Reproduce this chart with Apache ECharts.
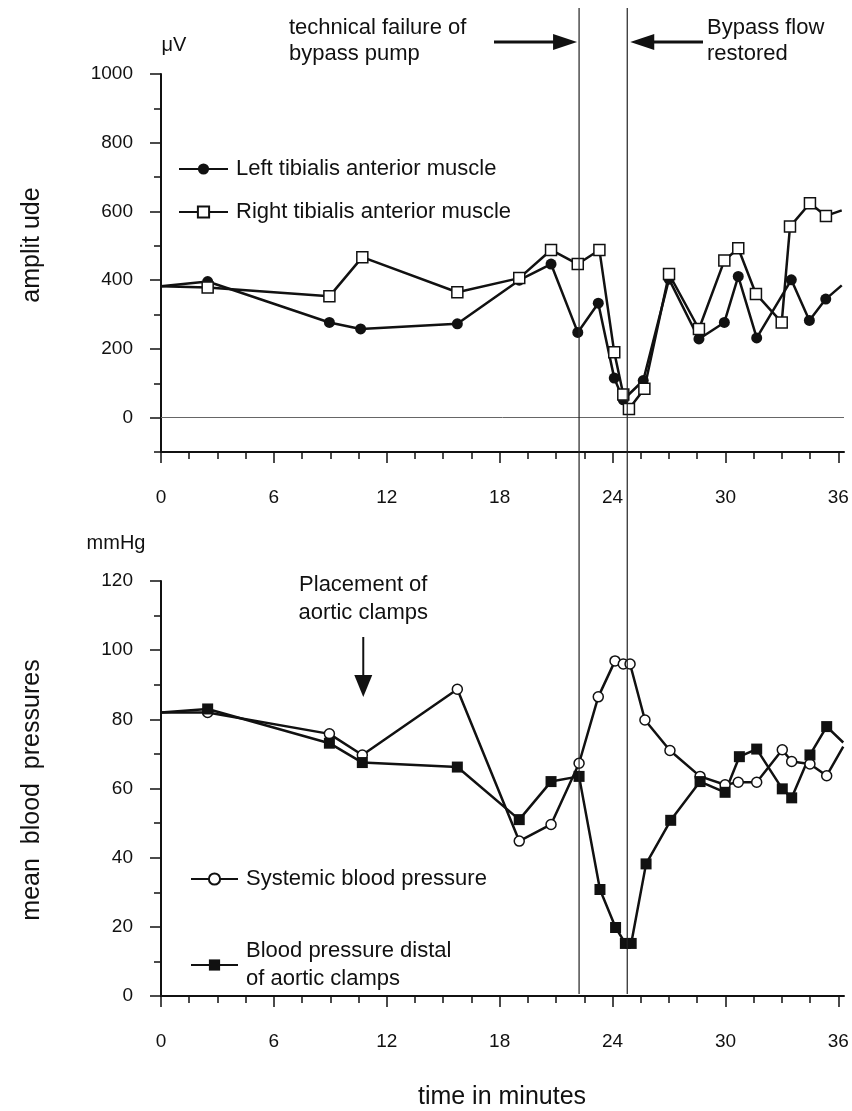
<!DOCTYPE html>
<html>
<head>
<meta charset="utf-8">
<script src="https://cdn.jsdelivr.net/npm/echarts@6/dist/echarts.min.js"></script>
<style>
  html, body { margin: 0; background: #fff; }
  #main { width: 852px; height: 1111px; }
</style>
</head>
<body>
<div id="main"></div>
<script>
// time in minutes, shared by both panels
var xMajor = [0, 6, 12, 18, 24, 30, 36];
var xMinor = [1.5, 3, 4.5, 7.5, 9, 10.5, 13.5, 15, 16.5, 19.5, 21, 22.5, 25.5, 27, 28.5, 31.5, 33, 34.5];
var tMax = 36.3;

// amplitude panel (uV)
var ampMajor = [0, 200, 400, 600, 800, 1000];
var ampMinor = [-100, 100, 300, 500, 700, 900];

// pressure panel (mmHg)
var bpMajor = [0, 20, 40, 60, 80, 100, 120];
var bpMinor = [10, 30, 50, 70, 90, 110];

// left tibialis anterior muscle
var leftTime = [0, 2.48, 8.95, 10.61, 15.75, 19.04, 20.73, 22.15, 23.24, 24.09, 24.57, 25.63, 27.0, 28.59, 29.94, 30.68, 31.66, 33.5, 34.46, 35.33, 36.18];
var leftAmp  = [382, 396, 277, 258, 273, 400, 447, 248, 333, 115, 52, 108, 403, 229, 277, 411, 232, 401, 283, 345, 385];

// right tibialis anterior muscle
var rightTime = [0, 2.48, 8.95, 10.70, 15.75, 19.04, 20.73, 22.15, 23.30, 24.09, 24.57, 24.87, 25.69, 27.0, 28.59, 29.94, 30.68, 31.62, 32.99, 33.43, 34.49, 35.34, 36.18];
var rightAmp  = [382, 379, 353, 467, 365, 406, 488, 447, 488, 190, 67, 25, 84, 418, 258, 457, 493, 360, 277, 556, 624, 587, 603];

// systemic blood pressure
var sysTime = [0, 2.48, 8.95, 10.70, 15.75, 19.04, 20.73, 22.22, 23.24, 24.13, 24.57, 24.93, 25.72, 27.05, 28.65, 29.98, 30.68, 31.66, 33.02, 33.52, 34.49, 35.38, 36.26];
var sysBP   = [82, 82, 75.8, 69.7, 88.7, 44.8, 49.6, 67.3, 86.5, 96.9, 96, 96, 79.8, 71, 63.5, 61.1, 61.8, 61.8, 71.2, 67.8, 67.1, 63.7, 72.1];

// blood pressure distal of aortic clamps
var distTime = [0, 2.48, 8.95, 10.70, 15.75, 19.04, 20.73, 22.22, 23.33, 24.16, 24.68, 24.99, 25.78, 27.09, 28.65, 29.98, 30.74, 31.66, 33.02, 33.52, 34.49, 35.38, 36.26];
var distBP   = [82, 83, 73.1, 67.5, 66.2, 51, 62, 63.5, 30.8, 19.8, 15.2, 15.2, 38.2, 50.8, 62, 58.9, 69.2, 71.4, 59.9, 57.3, 69.7, 77.9, 73.3];

// events
var clampTime = 10.75;
var failTime = 22.22;
var restoreTime = 24.78;

var ff = 'Liberation Sans, Arial, Helvetica, sans-serif';
var ink = '#111';

// first and last points only carry the line to the axis edges
function pts(ts, vs) {
    return ts.map(function (t, i) {
        var item = { value: [t, vs[i]] };
        if (i === 0 || i === ts.length - 1) item.symbol = 'none';
        return item;
    });
}

function plain(v) { return String(v); }

function xAxisOf(grid, ticks, len, main) {
    return {
        type: 'value', gridIndex: grid, min: 0, max: tMax, position: 'bottom',
        axisLine: { show: main, onZero: false, lineStyle: { color: ink, width: 2 } },
        axisTick: { show: true, customValues: ticks, length: len, lineStyle: { color: ink, width: 1.5 } },
        axisLabel: { show: main, customValues: xMajor, formatter: plain, margin: 36, color: ink, fontSize: 19, fontFamily: ff },
        splitLine: { show: false }
    };
}

function yAxisOf(grid, lo, hi, ticks, labels, len, main) {
    return {
        type: 'value', gridIndex: grid, min: lo, max: hi, position: 'left',
        axisLine: { show: main, onZero: false, lineStyle: { color: ink, width: 2 } },
        axisTick: { show: true, customValues: ticks, length: len, lineStyle: { color: ink, width: 1.5 } },
        axisLabel: { show: main, customValues: labels, formatter: plain, margin: 28, color: ink, fontSize: 19, fontFamily: ff },
        splitLine: { show: false }
    };
}

function legendOf(name, left, top, w) {
    return {
        data: [name], left: left, top: top, orient: 'vertical',
        itemWidth: w, itemHeight: 14, selectedMode: false,
        textStyle: { color: ink, fontSize: 22, fontFamily: ff, lineHeight: 28, padding: [0, 0, 0, 3] }
    };
}

var chart = echarts.init(document.getElementById('main'));

chart.setOption({
    backgroundColor: '#fff',
    animation: false,
    grid: [
        { left: 161, width: 683, top: 74, height: 378 },
        { left: 161, width: 683, top: 581, height: 415 }
    ],
    xAxis: [
        xAxisOf(0, xMajor, 11, true),
        xAxisOf(0, xMinor, 7, false),
        xAxisOf(1, xMajor, 11, true),
        xAxisOf(1, xMinor, 7, false)
    ],
    yAxis: [
        yAxisOf(0, -100, 1000, ampMajor, ampMajor, 11, true),
        yAxisOf(0, -100, 1000, ampMinor, ampMajor, 7, false),
        yAxisOf(1, 0, 120, bpMajor, bpMajor, 11, true),
        yAxisOf(1, 0, 120, bpMinor, bpMajor, 7, false)
    ],
    legend: [
        legendOf('Left tibialis anterior muscle', 173, 150, 49),
        legendOf('Right tibialis anterior muscle', 173, 193, 49),
        legendOf('Systemic blood pressure', 185, 860, 47),
        legendOf('Blood pressure distal\nof aortic clamps', 185, 932, 47)
    ],
    series: [
        {
            name: 'Left tibialis anterior muscle', type: 'line',
            xAxisIndex: 0, yAxisIndex: 0,
            data: pts(leftTime, leftAmp),
            symbol: 'circle', symbolSize: 11,
            lineStyle: { color: ink, width: 2.5 },
            itemStyle: { color: ink },
            markLine: {
                silent: true, symbol: 'none', label: { show: false },
                lineStyle: { color: '#666', width: 1, type: 'solid' },
                data: [{ yAxis: 0 }]
            }
        },
        {
            name: 'Right tibialis anterior muscle', type: 'line',
            xAxisIndex: 0, yAxisIndex: 0,
            data: pts(rightTime, rightAmp),
            symbol: 'rect', symbolSize: 11,
            lineStyle: { color: ink, width: 2.5 },
            itemStyle: { color: '#fff', borderColor: ink, borderWidth: 1.5 }
        },
        {
            name: 'Systemic blood pressure', type: 'line',
            xAxisIndex: 2, yAxisIndex: 2,
            data: pts(sysTime, sysBP),
            symbol: 'circle', symbolSize: 10,
            lineStyle: { color: ink, width: 2.5 },
            itemStyle: { color: '#fff', borderColor: ink, borderWidth: 1.5 }
        },
        {
            name: 'Blood pressure distal\nof aortic clamps', type: 'line',
            xAxisIndex: 2, yAxisIndex: 2,
            data: pts(distTime, distBP),
            symbol: 'rect', symbolSize: 11,
            lineStyle: { color: ink, width: 2.5 },
            itemStyle: { color: ink }
        }
    ]
});

// annotations placed from the axis scales
var xFail = chart.convertToPixel({ xAxisIndex: 0 }, failTime);
var xRest = chart.convertToPixel({ xAxisIndex: 0 }, restoreTime);
var xClamp = chart.convertToPixel({ xAxisIndex: 2 }, clampTime);
var yBottom = chart.convertToPixel({ yAxisIndex: 2 }, 0);

function txt(s, x, y, size, align, rot) {
    return {
        type: 'text', x: x, y: y, rotation: rot || 0, z: 10,
        style: { text: s, fill: ink, fontSize: size, fontFamily: ff, align: align || 'left', verticalAlign: 'middle' }
    };
}

function hArrow(tail, tip, y) {
    var d = tip > tail ? 1 : -1;
    return [
        { type: 'line', z: 10, shape: { x1: tail, y1: y, x2: tip - d * 20, y2: y }, style: { stroke: ink, lineWidth: 3 } },
        { type: 'polygon', z: 10, shape: { points: [[tip, y], [tip - d * 24, y - 8], [tip - d * 24, y + 8]] }, style: { fill: ink } }
    ];
}

function vArrow(x, tail, tip) {
    return [
        { type: 'line', z: 10, shape: { x1: x, y1: tail, x2: x, y2: tip - 18 }, style: { stroke: ink, lineWidth: 2 } },
        { type: 'polygon', z: 10, shape: { points: [[x, tip], [x - 9, tip - 22], [x + 9, tip - 22]] }, style: { fill: ink } }
    ];
}

var g = [
    { type: 'line', z: 5, shape: { x1: xFail, y1: 8, x2: xFail, y2: yBottom - 2 }, style: { stroke: '#222', lineWidth: 1.2 } },
    { type: 'line', z: 5, shape: { x1: xRest, y1: 8, x2: xRest, y2: yBottom - 2 }, style: { stroke: '#222', lineWidth: 1.2 } },
    txt('technical failure of', 289, 28, 22),
    txt('bypass pump', 289, 54, 22),
    txt('Bypass flow', 707, 28, 22),
    txt('restored', 707, 54, 22),
    txt('\u03bcV', 174, 45, 20, 'center'),
    txt('mmHg', 116, 543, 20, 'center'),
    txt('Placement of', xClamp, 585, 22, 'center'),
    txt('aortic clamps', xClamp, 613, 22, 'center'),
    txt('amplit ude', 32, 245, 25, 'center', Math.PI / 2),
    txt('mean  blood  pressures', 32, 790, 25, 'center', Math.PI / 2),
    txt('time in minutes', 502, 1097, 25, 'center')
];
g = g.concat(hArrow(494, xFail - 2, 42), hArrow(703, xRest + 3, 42), vArrow(xClamp, 637, 697));

chart.setOption({ graphic: g });
</script>
</body>
</html>
